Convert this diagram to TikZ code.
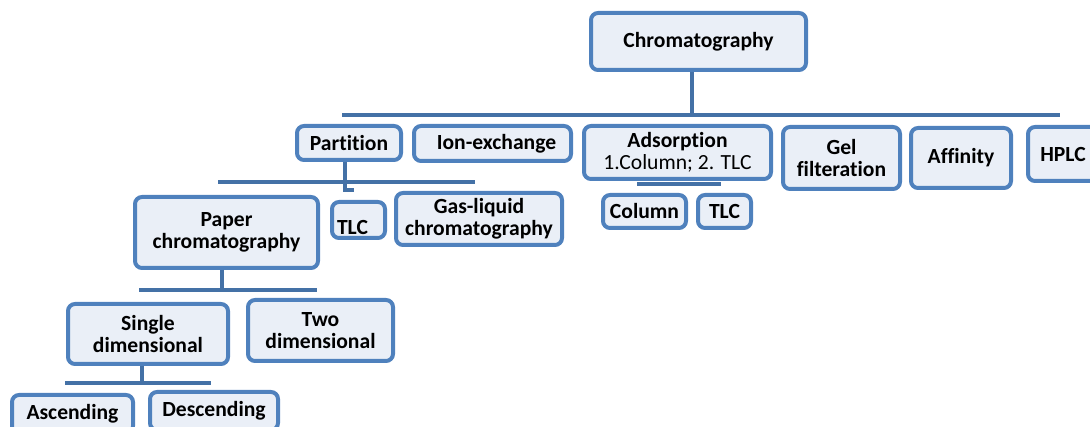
\documentclass[tikz,border=0pt]{standalone}
\usepackage{fontspec}
\setmainfont{Carlito}[Ligatures={NoCommon}]
\usepackage{tikz}

\definecolor{boxline}{HTML}{4F81BD}
\definecolor{boxfill}{HTML}{EAEFF7}
\definecolor{linkline}{HTML}{4471A6}

\tikzset{
  box/.style={draw=boxline, fill=boxfill, line width=4pt, rounded corners=7pt,
              align=center, inner sep=0pt, font=\fontsize{21.6}{22.5}\selectfont\bfseries},
  link/.style={draw=linkline, line width=4.8pt}
}

\begin{document}
\begin{tikzpicture}[x=1pt,y=-1pt]
      \useasboundingbox (0,0) rectangle (1090,427);

      \node[box,minimum width=215,minimum height=57] (chrom) at (698.5,41.5) {Chromatography};

      \node[box,minimum width=104,minimum height=34] (part) at (349,143) {Partition};
      \node[box,minimum width=157,minimum height=35] (ion)  at (492.5,143.5) {\hspace*{8pt}Ion-exchange};
      \node[box,minimum width=187,minimum height=53] (ads)  at (677.5,152.5) {Adsorption\\\mdseries 1.Column; 2. TLC};
      \node[box,minimum width=117,minimum height=62] (gel)  at (841.5,158) {Gel\\filteration};
      \node[box,minimum width=100,minimum height=60] (aff)  at (961,158) {Affinity};
      \node[box,minimum width=74,minimum height=54]  (hplc) at (1065,154) {HPLC\hspace*{4pt}};

      \node[box,minimum width=83,minimum height=33] (col)  at (644.5,211.5) {Column};
      \node[box,minimum width=53,minimum height=33] (tlcb) at (724.5,211.5) {TLC};

      \node[box,minimum width=183,minimum height=71] (paper) at (226.5,232.5) {Paper\\chromatography};
      \node[box,minimum width=53,minimum height=36]  (tlca)  at (358.5,220) {\raisebox{-15pt}[0pt][0pt]{TLC}\hspace*{12pt}};
      \node[box,minimum width=166,minimum height=52] (gas)   at (479,219) {Gas-liquid\\chromatography};

      \node[box,minimum width=160,minimum height=60] (single) at (148,334) {Single\\dimensional};
      \node[box,minimum width=145,minimum height=61] (two)    at (320.5,330.5) {Two\\dimensional};

      \node[box,minimum width=121,minimum height=38] (asc)  at (72.5,414) {Ascending};
      \node[box,minimum width=128,minimum height=38] (desc) at (214,411) {Descending};

      % junctions and bar ends
      \coordinate (j0) at (692,115);
      \coordinate (b0l) at (342,115);
      \coordinate (b0r) at (1060,115);
      \coordinate (j1) at (345,182);
      \coordinate (j1s) at (345,190);
      \coordinate (j1t) at (354,190);
      \coordinate (b1l) at (218,182);
      \coordinate (b1r) at (475,182);
      \coordinate (b2l) at (637,184);
      \coordinate (b2r) at (721,184);
      \coordinate (j3) at (222,290);
      \coordinate (b3l) at (139,290);
      \coordinate (b3r) at (317,290);
      \coordinate (j4) at (142,383);
      \coordinate (b4l) at (65,383);
      \coordinate (b4r) at (211,383);

      \draw[link] (j0 |- chrom.south) -- (j0);
      \draw[link] (b0l) -- (b0r);
      \draw[link] (j1 |- part.south) -- (j1s) -- (j1t);
      \draw[link] (b1l) -- (b1r);
      \draw[link] (b2l) -- (b2r);
      \draw[link] (j3 |- paper.south) -- (j3);
      \draw[link] (b3l) -- (b3r);
      \draw[link] (j4 |- single.south) -- (j4);
      \draw[link] (b4l) -- (b4r);
    \end{tikzpicture}
\end{document}
